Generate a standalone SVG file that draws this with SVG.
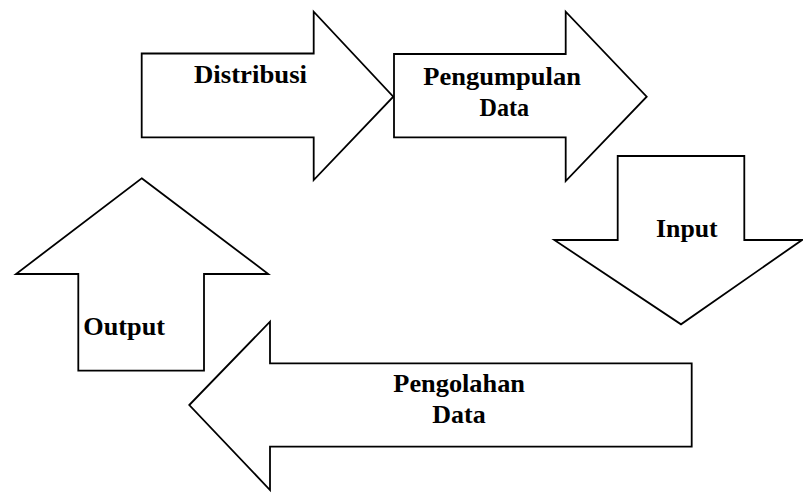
<svg xmlns="http://www.w3.org/2000/svg" width="803" height="493" viewBox="0 0 803 493">
<style>
.arrow{fill:#fff;stroke:#000;stroke-width:1.8;stroke-linejoin:miter}
.lbl{font-weight:bold;font-size:26px;fill:#000}
</style>
<rect width="803" height="493" fill="#fff"/>
<g id="distribusi">
<polygon class="arrow" points="141.7,53.5 313.7,53.5 313.7,11.7 393.3,96.7 313.7,180 313.7,137.3 141.7,137.3"/>
<text class="lbl" font-family="Liberation Serif, Times New Roman, serif" x="194" y="83" textLength="113" lengthAdjust="spacingAndGlyphs">Distribusi</text>
</g>
<g id="pengumpulan">
<polygon class="arrow" points="394,54 565.7,54 565.7,11.7 646.7,96.7 565.7,181 565.7,137.3 394,137.3"/>
<text class="lbl" font-family="Liberation Serif, Times New Roman, serif" x="423.3" y="84.5" textLength="157.7" lengthAdjust="spacingAndGlyphs">Pengumpulan</text>
<text class="lbl" font-family="Liberation Serif, Times New Roman, serif" x="479.5" y="115.5" textLength="49.5" lengthAdjust="spacingAndGlyphs">Data</text>
</g>
<g id="input">
<polygon class="arrow" points="617.7,156 744.3,156 744.3,240 802,240 681,324.3 554.3,240 617.7,240"/>
<text class="lbl" font-family="Liberation Serif, Times New Roman, serif" x="656" y="236.5" textLength="61.7" lengthAdjust="spacingAndGlyphs">Input</text>
</g>
<g id="output">
<polygon class="arrow" points="141.7,178.3 268.3,274 204,274 204,370.7 78.3,370.7 78.3,274 16,274"/>
<text class="lbl" font-family="Liberation Serif, Times New Roman, serif" x="83.3" y="335" textLength="81.7" lengthAdjust="spacingAndGlyphs">Output</text>
</g>
<g id="pengolahan">
<polygon class="arrow" points="189.3,405 270,321.7 270,363.3 691.7,363.3 691.7,446.7 270,446.7 270,490"/>
<text class="lbl" font-family="Liberation Serif, Times New Roman, serif" x="393.3" y="392.3" textLength="131.7" lengthAdjust="spacingAndGlyphs">Pengolahan</text>
<text class="lbl" font-family="Liberation Serif, Times New Roman, serif" x="432.3" y="423.3" textLength="53.4" lengthAdjust="spacingAndGlyphs">Data</text>
</g>
<g id="connectors"></g>
</svg>
